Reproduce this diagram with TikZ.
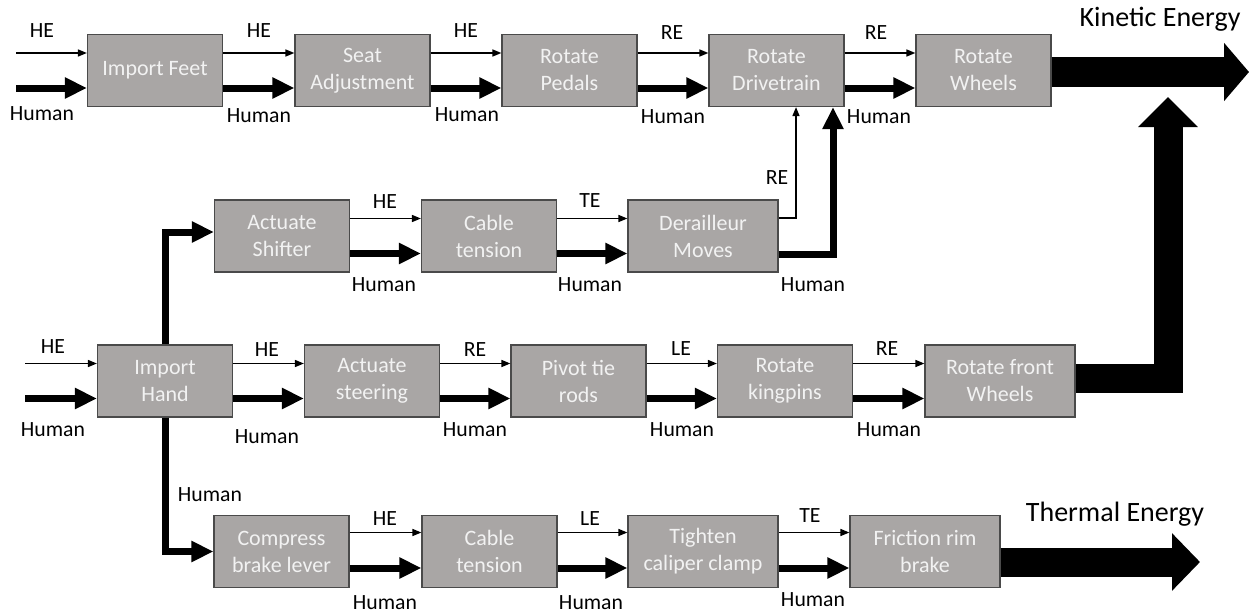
\documentclass[tikz,border=0pt]{standalone}
\usepackage{fontspec}
\setmainfont{Carlito}
\usetikzlibrary{arrows.meta}
\definecolor{boxgray}{HTML}{A9A6A5}
\definecolor{boxtext}{HTML}{F2F2F2}
\definecolor{boxedge}{HTML}{4A4A4A}
\begin{document}
\begin{tikzpicture}[x=1pt,y=-1pt,
 box/.style={draw=boxedge, line width=1.2pt, fill=boxgray, text=boxtext, minimum height=72pt, minimum width=135pt, align=center, inner sep=0pt, font=\fontsize{22}{27}\selectfont},
 wide/.style={minimum width=150pt},
 lab/.style={inner sep=0pt, font=\fontsize{21.7}{25}\selectfont},
 biglab/.style={inner sep=0pt, font=\fontsize{28}{32}\selectfont},
 thinarr/.style={line width=1.5pt, -{Triangle[length=9pt,width=7pt]}},
 thickarr/.style={line width=7pt, line join=miter, -{Triangle[length=22pt,width=20pt]}},
 bigarr/.style={line join=miter},
]
\useasboundingbox (0,0) rectangle (1250,613);

% ---------- boxes ----------
\node[box] (feet)   at (155,70.5)   {Import Feet};
\node[box] (seat)   at (362.5,70.5) {Seat\\Adjustment};
\node[box] (pedals) at (569.5,70.5) {Rotate\\Pedals};
\node[box] (drive)  at (776.5,70.5) {Rotate\\Drivetrain};
\node[box] (wheels) at (983.5,70.5) {Rotate\\Wheels};

\node[box] (shifter) at (282,236)  {Actuate\\Shifter};
\node[box] (cable1)  at (489,236)  {Cable\\tension};
\node[box,wide] (der) at (703,236) {Derailleur\\Moves};

\node[box] (hand)  at (165,381)   {Import\\Hand};
\node[box] (steer) at (372,381)   {Actuate\\steering};
\node[box] (pivot) at (578.5,381) {Pivot tie\\rods};
\node[box] (king)  at (785,381)   {Rotate\\kingpins};
\node[box,wide] (front) at (1000,381) {Rotate front\\Wheels};

\node[box] (brake)   at (281.5,551.5) {Compress\\brake lever};
\node[box] (cable2)  at (489.5,551.5) {Cable\\tension};
\node[box,wide] (caliper)  at (703,551.5) {Tighten\\caliper clamp};
\node[box,wide] (friction) at (925,551.5) {Friction rim\\brake};

% ---------- free ends ----------
\coordinate (in1a) at (16,53);
\coordinate (in1b) at (16,88);
\coordinate (in3a) at (25,363.5);
\coordinate (in3b) at (25,398.5);
\coordinate (ktip) at (1249,72);
\coordinate (kup)  at (1168,97);
\coordinate (ttip) at (1200,562);

% ---------- row 1 ----------
\draw[thinarr]  (in1a) -- ([yshift=17.5pt]feet.west);
\draw[thickarr] (in1b) -- ([yshift=-17.5pt]feet.west);
\foreach \a/\b in {feet/seat,seat/pedals,pedals/drive,drive/wheels}{
  \draw[thinarr]  ([yshift=17.5pt]\a.east) -- ([yshift=17.5pt]\b.west);
  \draw[thickarr] ([yshift=-17.5pt]\a.east) -- ([yshift=-17.5pt]\b.west);
}
\draw[bigarr, line width=30pt, -{Triangle[length=25pt,width=57pt]}] (wheels.east |- ktip) -- (ktip);

% ---------- row 2 ----------
\draw[thickarr] (hand.north) |- ([yshift=4pt]shifter.west);
\foreach \a/\b in {shifter/cable1,cable1/der}{
  \draw[thinarr]  ([yshift=17.5pt]\a.east) -- ([yshift=17.5pt]\b.west);
  \draw[thickarr] ([yshift=-17.5pt]\a.east) -- ([yshift=-17.5pt]\b.west);
}
\draw[thinarr, line join=miter] ([yshift=18pt]der.east) -| ([xshift=19.5pt]drive.south);
\draw[thickarr] ([yshift=-18pt]der.east) -| ([xshift=56.5pt]drive.south);

% ---------- row 3 ----------
\draw[thinarr]  (in3a) -- ([yshift=17.5pt]hand.west);
\draw[thickarr] (in3b) -- ([yshift=-17.5pt]hand.west);
\foreach \a/\b in {hand/steer,steer/pivot,pivot/king,king/front}{
  \draw[thinarr]  ([yshift=17.5pt]\a.east) -- ([yshift=17.5pt]\b.west);
  \draw[thickarr] ([yshift=-17.5pt]\a.east) -- ([yshift=-17.5pt]\b.west);
}
\draw[bigarr, line width=29pt, -{Triangle[length=30pt,width=58pt]}] ([yshift=3pt]front.east) -| (kup);

% ---------- row 4 ----------
\draw[thickarr] (hand.south) |- (brake.west);
\foreach \a/\b in {brake/cable2,cable2/caliper,caliper/friction}{
  \draw[thinarr]  ([yshift=19pt]\a.east) -- ([yshift=19pt]\b.west);
  \draw[thickarr] ([yshift=-16.5pt]\a.east) -- ([yshift=-16.5pt]\b.west);
}
\draw[bigarr, line width=29pt, -{Triangle[length=28pt,width=56pt]}] (friction.east |- ttip) -- (ttip);

% ---------- labels ----------
\node[lab] (r1a) at (42,31)   {HE};
\node[lab] (r1b) at (42,114)  {Human};
\node[lab] (r1c) at (259,31)  {HE};
\node[lab] (r1d) at (259,116) {Human};
\node[lab] (r1e) at (466,31)  {HE};
\node[lab] (r1f) at (467,115) {Human};
\node[lab] (r1g) at (672,33)  {RE};
\node[lab] (r1h) at (673,117) {Human};
\node[lab] (r1i) at (876,33)  {RE};
\node[lab] (r1j) at (879,117) {Human};
\node[biglab] (kin) at (1160,19) {Kinetic Energy};

\node[lab] (r2a) at (385,202) {HE};
\node[lab] (r2b) at (384,285) {Human};
\node[lab] (r2c) at (590,201) {TE};
\node[lab] (r2d) at (590,285) {Human};
\node[lab] (r2e) at (777,178) {RE};
\node[lab] (r2f) at (813,285) {Human};

\node[lab] (r3a) at (53,347)  {HE};
\node[lab] (r3b) at (53,430)  {Human};
\node[lab] (r3c) at (267,350) {HE};
\node[lab] (r3d) at (267,437) {Human};
\node[lab] (r3e) at (475,350) {RE};
\node[lab] (r3f) at (475,430) {Human};
\node[lab] (r3g) at (681,349) {LE};
\node[lab] (r3h) at (682,430) {Human};
\node[lab] (r3i) at (887,349) {RE};
\node[lab] (r3j) at (889,430) {Human};

\node[lab] (r4x) at (210,495) {Human};
\node[lab] (r4a) at (385,519) {HE};
\node[lab] (r4b) at (385,603) {Human};
\node[lab] (r4c) at (590,519) {LE};
\node[lab] (r4d) at (591,603) {Human};
\node[lab] (r4e) at (810,516) {TE};
\node[lab] (r4f) at (813,600) {Human};
\node[biglab] (therm) at (1115,514) {Thermal Energy};
\end{tikzpicture}
\end{document}
